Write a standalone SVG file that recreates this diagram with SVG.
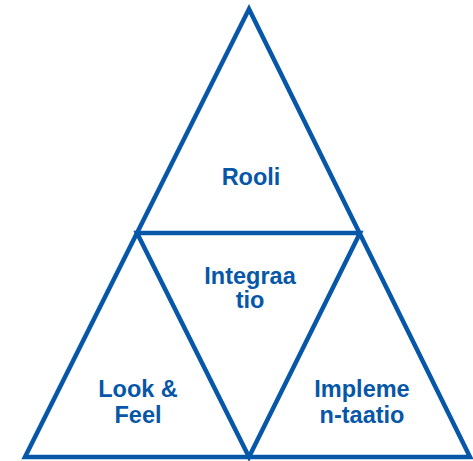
<svg xmlns="http://www.w3.org/2000/svg" width="473" height="461" viewBox="0 0 473 461">
<style>
.ln{fill:none;stroke:#0757A8;stroke-width:4.5;stroke-linejoin:miter;stroke-linecap:butt}
.t{font-family:"Liberation Sans",Arial,sans-serif;font-weight:bold;font-size:23.5px;fill:#0757A8;text-anchor:middle}
</style>
<rect width="473" height="461" fill="#fff"/>
<g id="connectors">
<polygon class="ln" points="249,9 470,457 25,457"/>
<polygon class="ln" points="137,233 360,233 249,457"/>
</g>
<g id="rooli"><text class="t" x="251" y="185">Rooli</text></g>
<g id="integraatio"><text class="t" x="250" y="284">Integraa</text><text class="t" x="250" y="308">tio</text></g>
<g id="lookfeel"><text class="t" x="138" y="397">Look &amp;</text><text class="t" x="138" y="423">Feel</text></g>
<g id="implementaatio"><text class="t" x="362" y="397">Impleme</text><text class="t" x="362" y="423">n-taatio</text></g>
</svg>
